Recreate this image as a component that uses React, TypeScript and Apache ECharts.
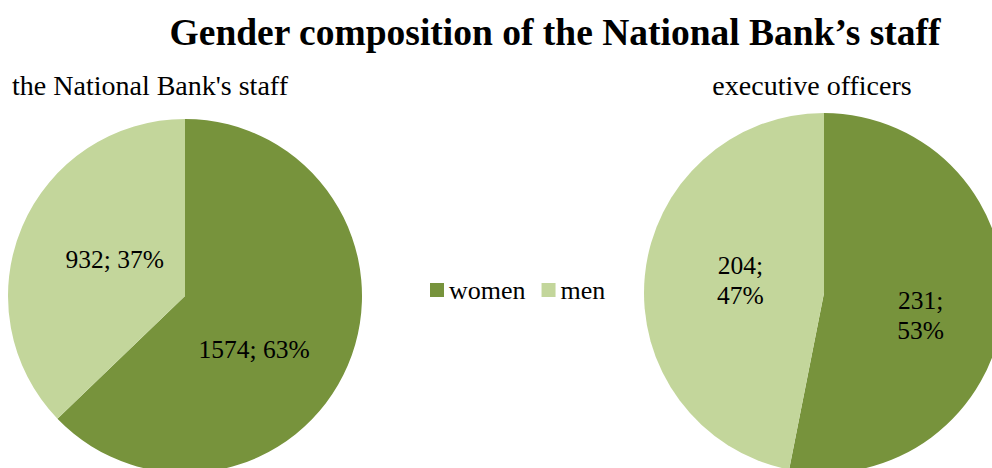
import React, { useEffect, useRef } from "react";
import * as echarts from "echarts";

const chartTitle = "Gender composition of the National Bank\u2019s staff";
const categories = ["women", "men"];
const staffTitle = "the National Bank's staff";
const staffValues = [1574, 932];
const staffPercents = ["63%", "37%"];
const execTitle = "executive officers";
const execValues = [231, 204];
const execPercents = ["53%", "47%"];
const colors = ["#77933C", "#C3D69B"];

const FONT = '"Liberation Serif", "Times New Roman", serif';

export default function App() {
  const ref = useRef<HTMLDivElement>(null);
  useEffect(() => {
    if (!ref.current) return;
    const chart = echarts.init(ref.current, null, { renderer: "svg" });
    const leftOffsets = [
      [-15, 18],
      [14, -1],
    ];
    const rightOffsets = [
      [4, 13],
      [9, -3],
    ];
    chart.setOption({
      animation: false,
      color: colors,
      textStyle: { fontFamily: FONT },
      title: [
        {
          text: chartTitle,
          left: 550,
          top: 8,
          textAlign: "center",
          textStyle: { fontFamily: FONT, fontSize: 37.5, fontWeight: "bold", color: "#000" },
        },
        {
          text: staffTitle,
          left: 145,
          top: 66,
          textAlign: "center",
          textStyle: { fontFamily: FONT, fontSize: 28, fontWeight: "normal", color: "#000" },
        },
        {
          text: execTitle,
          left: 807,
          top: 66,
          textAlign: "center",
          textStyle: { fontFamily: FONT, fontSize: 28, fontWeight: "normal", color: "#000" },
        },
      ],
      legend: {
        data: categories,
        left: 425,
        top: 272,
        orient: "horizontal",
        icon: "rect",
        itemWidth: 14,
        itemHeight: 14,
        itemGap: 16,
        textStyle: { fontFamily: FONT, fontSize: 26, color: "#000" },
        selectedMode: false,
      },
      series: [
        {
          type: "pie",
          center: [185, 296],
          radius: 177,
          startAngle: 90,
          clockwise: true,
          silent: true,
          data: categories.map((c, i) => ({ name: c, value: staffValues[i] })),
          label: {
            show: true,
            position: "inside",
            fontFamily: FONT,
            fontSize: 25.5,
            color: "#000",
            formatter: (p: any) => `${p.value}; ${staffPercents[p.dataIndex]}`,
          },
          labelLine: { show: false },
          labelLayout: (p: any) => ({ dx: leftOffsets[p.dataIndex][0], dy: leftOffsets[p.dataIndex][1] }),
          itemStyle: { borderWidth: 0 },
        },
        {
          type: "pie",
          center: [824, 293],
          radius: 180,
          startAngle: 90,
          clockwise: true,
          silent: true,
          data: categories.map((c, i) => ({ name: c, value: execValues[i] })),
          label: {
            show: true,
            position: "inside",
            fontFamily: FONT,
            fontSize: 25.5,
            lineHeight: 30,
            color: "#000",
            formatter: (p: any) => `${p.value};\n${execPercents[p.dataIndex]}`,
          },
          labelLine: { show: false },
          labelLayout: (p: any) => ({ dx: rightOffsets[p.dataIndex][0], dy: rightOffsets[p.dataIndex][1] }),
          itemStyle: { borderWidth: 0 },
        },
      ],
    });
    return () => chart.dispose();
  }, []);
  return (
    <div
      ref={ref}
      style={{ position: "fixed", left: 0, top: 0, width: 992, height: 468, background: "#fff" }}
    />
  );
}
